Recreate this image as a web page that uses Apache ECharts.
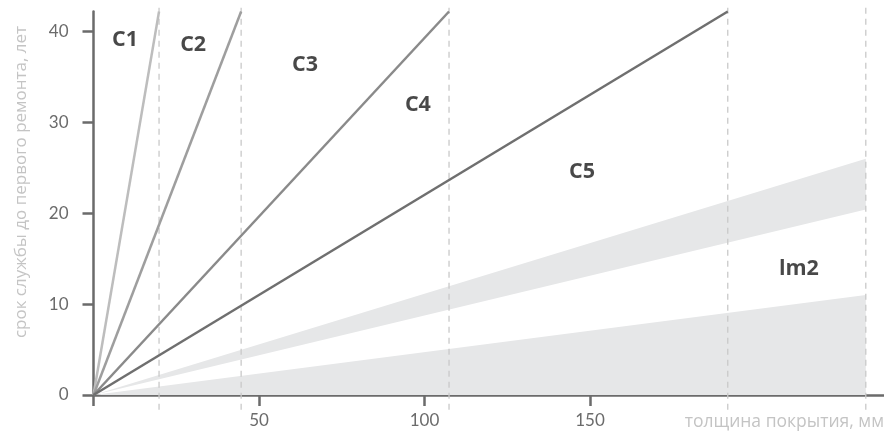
<!DOCTYPE html>
<html>
<head>
<meta charset="utf-8">
<script src="https://cdn.jsdelivr.net/npm/echarts@6/dist/echarts.min.js"></script>
<style>html,body{margin:0;padding:0;background:#fff}#c{width:884px;height:434px}</style>
</head>
<body>
<div id="c"></div>
<script>
// ---- data ----
var yTop = 42.2;                                  // top of the value range (years)
var lineNames = ['C1/C2', 'C2/C3', 'C3/C4', 'C4/C5'];
var lineEndX = [19.8, 44.6, 107.4, 191.6];       // thickness where each line reaches yTop
var lineColors = ['#bdbdbd', '#9e9e9e', '#8a8a8a', '#6f6f6f'];
var dashX = [19.8, 44.6, 107.4, 191.6, 233.3];   // dashed vertical guides
var bandEndX = [233.3, 233.3];                    // grey wedges end at this thickness
var bandLow  = [20.4, 0];                         // wedge lower edge at bandEndX
var bandHigh = [26.0, 11.0];                      // wedge upper edge at bandEndX
var regionLabels = ['C1', 'C2', 'C3', 'C4', 'C5', 'lm2'];
var regionX = [9.5, 30.1, 63.9, 98.0, 147.6, 213.1];
var regionY = [39.1, 38.5, 36.3, 31.9, 24.5, 13.9];
var xTicks = [0, 50, 100, 150];
var xLabels = [50, 100, 150];
var yTicks = [0, 10, 20, 30, 40];
var xName = 'толщина покрытия, мм';
var yName = 'срок службы до первого ремонта, лет';

var axisCol = '#6b6b6b';
var series = [];

// grey wedges from the origin
series.push({type:'custom', silent:true, z:1, clip:true,
  data: bandEndX.map(function(x,i){return [x, bandLow[i], bandHigh[i]];}),
  renderItem:function(params, api){
    var x = api.value(0), lo = api.value(1), hi = api.value(2);
    var p0 = api.coord([0,0]), p1 = api.coord([x,lo]), p2 = api.coord([x,hi]);
    return {type:'polygon', shape:{points:[p0,p1,p2]}, style:{fill:'#e6e7e8'}};
  }});

// dashed guides
dashX.forEach(function(x){
  series.push({type:'line', symbol:'none', silent:true, clip:false, z:2,
    lineStyle:{color:'#c9c9c9', width:1.3, type:[6,5]},
    data:[[x,42.6],[x,-1.9]]});
});

// boundary lines
lineEndX.forEach(function(x,i){
  series.push({type:'line', name:lineNames[i], symbol:'none', silent:true, clip:false, z:3,
    lineStyle:{color:lineColors[i], width:2.5},
    data:[[0,0],[x,yTop]]});
});

// region labels
series.push({type:'scatter', symbolSize:0, silent:true, z:5,
  data: regionLabels.map(function(t,i){return {value:[regionX[i],regionY[i]], name:t};}),
  label:{show:true, position:'inside', formatter:'{b}', color:'#1a1a1a',
    fontFamily:'"Open Sans", Lato, sans-serif', fontWeight:'bold', fontSize:21.5}});

var chart = echarts.init(document.getElementById('c'), null, {renderer:'canvas'});
chart.setOption({
  animation:false,
  backgroundColor:'#fff',
  grid:{left:93.5, right:0, top:11.5, bottom:39, containLabel:false},
  xAxis:{type:'value', min:0, max:238.8, interval:50,
    axisLine:{show:true, onZero:false, lineStyle:{color:axisCol, width:2.5}},
    axisTick:{show:true, length:11, customValues:xTicks, lineStyle:{color:axisCol, width:2.5}},
    axisLabel:{customValues:xLabels, margin:17, color:'#6b6b6b', fontSize:17,
      fontFamily:'Lato, "Open Sans", sans-serif'},
    splitLine:{show:false}},
  yAxis:{type:'value', min:0, max:yTop, interval:10,
    axisLine:{show:true, onZero:false, lineStyle:{color:axisCol, width:2.5}},
    axisTick:{show:true, length:11, customValues:yTicks, lineStyle:{color:axisCol, width:2.5}},
    axisLabel:{customValues:yTicks, margin:25, color:'#6b6b6b', fontSize:17,
      fontFamily:'Lato, "Open Sans", sans-serif'},
    splitLine:{show:false}},
  graphic:[
    {type:'text', x:21, y:182, rotation:Math.PI/2,
      style:{text:yName, fill:'#c4c4c4', fontSize:17, fontFamily:'"Open Sans", sans-serif',
        align:'center', verticalAlign:'middle'}},
    {type:'text', x:884, y:422,
      style:{text:xName, fill:'#c4c4c4', fontSize:17.5, fontFamily:'"Open Sans", sans-serif',
        align:'right', verticalAlign:'middle'}}
  ],
  series:series
});
</script>
</body>
</html>
